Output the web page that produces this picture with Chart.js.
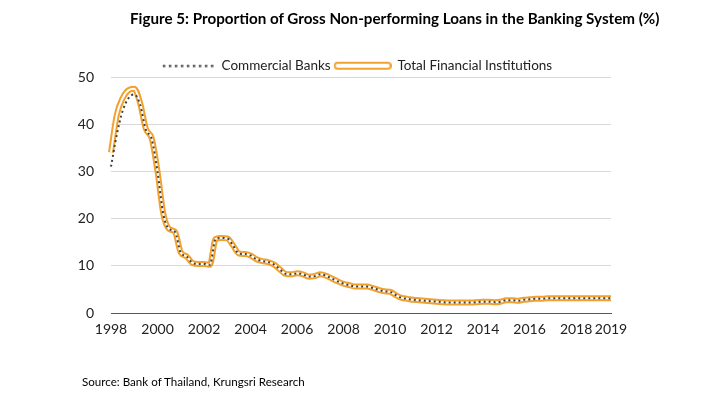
<!DOCTYPE html>
<html>
<head>
<meta charset="utf-8">
<script src="https://cdn.jsdelivr.net/npm/chart.js@4.4.1/dist/chart.umd.min.js"></script>
<style>
  html, body { margin: 0; padding: 0; background: #fff; }
  #wrap { position: relative; width: 711px; height: 399px; }
  #title { position: absolute; top: 8px; left: 130px; white-space: nowrap;
    font: bold 15.2px Lato, sans-serif; color: #000; line-height: 20px; }
  #source { position: absolute; top: 375px; left: 82px; white-space: nowrap;
    font: 11.6px Lato, sans-serif; color: #000; line-height: 14px; }
  #chart { position: absolute; left: 0; top: 0; }
</style>
</head>
<body>
<div id="wrap">
  <canvas id="chart" width="711" height="399"></canvas>
  <div id="title">Figure 5: Proportion of Gross Non-performing Loans in the Banking System (%)</div>
  <div id="source">Source: Bank of Thailand, Krungsri Research</div>
</div>
<script>
// quarterly periods
const quarters = [
  '1998Q1', '1998Q2', '1998Q3', '1998Q4',
  '1999Q1', '1999Q2', '1999Q3', '1999Q4',
  '2000Q1', '2000Q2', '2000Q3', '2000Q4',
  '2001Q1', '2001Q2', '2001Q3', '2001Q4',
  '2002Q1', '2002Q2', '2002Q3', '2002Q4',
  '2003Q1', '2003Q2', '2003Q3', '2003Q4',
  '2004Q1', '2004Q2', '2004Q3', '2004Q4',
  '2005Q1', '2005Q2', '2005Q3', '2005Q4',
  '2006Q1', '2006Q2', '2006Q3', '2006Q4',
  '2007Q1', '2007Q2', '2007Q3', '2007Q4',
  '2008Q1', '2008Q2', '2008Q3', '2008Q4',
  '2009Q1', '2009Q2', '2009Q3', '2009Q4',
  '2010Q1', '2010Q2', '2010Q3', '2010Q4',
  '2011Q1', '2011Q2', '2011Q3', '2011Q4',
  '2012Q1', '2012Q2', '2012Q3', '2012Q4',
  '2013Q1', '2013Q2', '2013Q3', '2013Q4',
  '2014Q1', '2014Q2', '2014Q3', '2014Q4',
  '2015Q1', '2015Q2', '2015Q3', '2015Q4',
  '2016Q1', '2016Q2', '2016Q3', '2016Q4',
  '2017Q1', '2017Q2', '2017Q3', '2017Q4',
  '2018Q1', '2018Q2', '2018Q3', '2018Q4',
  '2019Q1', '2019Q2', '2019Q3'
];

const commercialBanks = [
  31.0, 37.8, 42.8, 45.5,
  46.3, 44.2, 38.8, 36.9,
  29.9, 20.9, 17.8, 17.2,
  12.8, 12.0, 10.6, 10.4,
  10.4, 10.2, 15.7, 15.9,
  15.8, 14.3, 12.6, 12.5,
  12.2, 11.4, 11.0, 10.8,
  10.3, 9.3, 8.3, 8.2,
  8.4, 8.2, 7.7, 7.8,
  8.2, 7.9, 7.3, 6.7,
  6.2, 5.9, 5.6, 5.6,
  5.6, 5.3, 4.9, 4.6,
  4.5, 3.8, 3.2, 3.0,
  2.8, 2.7, 2.6, 2.5,
  2.4, 2.3, 2.2, 2.2,
  2.2, 2.2, 2.2, 2.3,
  2.4, 2.4, 2.3, 2.4,
  2.7, 2.7, 2.6, 2.8,
  2.9, 3.0, 3.0, 3.1,
  3.1, 3.1, 3.1, 3.1,
  3.1, 3.1, 3.1, 3.1,
  3.1, 3.1, 3.1
];

const totalFinancial = [
  34.0, 42.0, 45.5, 47.2,
  47.5, 44.5, 39.0, 37.0,
  30.0, 21.0, 17.8, 17.2,
  12.8, 12.0, 10.6, 10.4,
  10.4, 10.2, 15.7, 15.9,
  15.8, 14.3, 12.6, 12.5,
  12.2, 11.4, 11.0, 10.8,
  10.3, 9.3, 8.3, 8.2,
  8.4, 8.2, 7.7, 7.8,
  8.2, 7.9, 7.3, 6.7,
  6.2, 5.9, 5.6, 5.6,
  5.6, 5.3, 4.9, 4.6,
  4.5, 3.8, 3.2, 3.0,
  2.8, 2.7, 2.6, 2.5,
  2.4, 2.3, 2.2, 2.2,
  2.2, 2.2, 2.2, 2.3,
  2.4, 2.4, 2.3, 2.4,
  2.7, 2.7, 2.6, 2.8,
  2.9, 3.0, 3.0, 3.1,
  3.1, 3.1, 3.1, 3.1,
  3.1, 3.1, 3.1, 3.1,
  3.1, 3.1, 3.1
];

// x axis labels and the periods they sit on
const tickPeriods = ['1998Q1', '2000Q1', '2002Q1', '2004Q1', '2006Q1', '2008Q1',
  '2010Q1', '2012Q1', '2014Q1', '2016Q1', '2018Q1', '2019Q3'];
const tickLabels = ['1998', '2000', '2002', '2004', '2006', '2008',
  '2010', '2012', '2014', '2016', '2018', '2019'];

const seriesNames = ['Commercial Banks', 'Total Financial Institutions'];

const ORANGE = '#F2A12E';
const DOTS = '#404040';
const FONT = 'Lato, sans-serif';

// legend symbols drawn on small canvases
function makeSymbol(w, draw) {
  const c = document.createElement('canvas');
  c.width = w;
  c.height = 10;
  draw(c.getContext('2d'));
  return c;
}
const dotSymbol = makeSymbol(54, (g) => {
  g.fillStyle = '#595959';
  for (let i = 0; i < 9; i++) g.fillRect(3 + i * 6, 4, 2.5, 2.5);
});
const doubleSymbol = makeSymbol(58, (g) => {
  g.fillStyle = '#fff';
  g.strokeStyle = ORANGE;
  g.lineWidth = 2;
  g.beginPath();
  g.roundRect(1, 2, 56, 6, 3);
  g.fill();
  g.stroke();
});

// pull the plot up closer to the legend
const legendGap = {
  id: 'legendGap',
  afterInit(chart) {
    const lg = chart.legend;
    const fit = lg.fit;
    lg.fit = function () {
      fit.call(this);
      this.height -= 5.5;
    };
  }
};

new Chart(document.getElementById('chart'), {
  type: 'line',
  data: {
    labels: quarters,
    datasets: [
      {
        label: seriesNames[0],
        data: commercialBanks,
        borderColor: DOTS,
        borderWidth: 2,
        borderDash: [2, 3],
        pointRadius: 0,
        cubicInterpolationMode: 'monotone',
        order: 0
      },
      {
        label: 'inner',
        data: totalFinancial,
        borderColor: '#FFFFFF',
        borderWidth: 2,
        pointRadius: 0,
        cubicInterpolationMode: 'monotone',
        order: 1
      },
      {
        label: seriesNames[1],
        data: totalFinancial,
        borderColor: ORANGE,
        borderWidth: 6,
        pointRadius: 0,
        cubicInterpolationMode: 'monotone',
        order: 2
      }
    ]
  },
  plugins: [legendGap],
  options: {
    responsive: false,
    animation: false,
    layout: { padding: { left: 0, right: 0, top: 55, bottom: 26 } },
    plugins: {
      tooltip: { enabled: false },
      legend: {
        position: 'top',
        labels: {
          usePointStyle: true,
          pointStyleWidth: 56,
          padding: 4,
          color: '#222',
          font: { family: FONT, size: 13.5 },
          generateLabels: () => [
            { text: seriesNames[0], pointStyle: dotSymbol, datasetIndex: 0, lineWidth: 0, fontColor: '#222' },
            { text: seriesNames[1], pointStyle: doubleSymbol, datasetIndex: 2, lineWidth: 0, fontColor: '#222' }
          ]
        }
      }
    },
    scales: {
      x: {
        grid: { display: false, drawTicks: false },
        border: { display: true, color: '#595959', width: 1 },
        ticks: {
          autoSkip: false,
          maxRotation: 0,
          padding: 8,
          color: '#222',
          font: { family: FONT, size: 14 },
          callback: (v, i) => {
            const k = tickPeriods.indexOf(quarters[i]);
            return k >= 0 ? tickLabels[k] : '';
          }
        },
        afterFit: (s) => { s.height = 60; }
      },
      y: {
        min: 0,
        max: 50,
        ticks: { stepSize: 10, padding: 17, color: '#222', font: { family: FONT, size: 14 } },
        grid: {
          drawTicks: false,
          color: (c) => (c.tick.value === 0 ? 'rgba(0,0,0,0)' : '#D9D9D9')
        },
        border: { display: false },
        afterFit: (s) => { s.width = 111; }
      },
      // empty right-hand strip so the plot ends where the reference does
      yRight: {
        type: 'linear',
        position: 'right',
        grid: { display: false, drawTicks: false },
        border: { display: false },
        ticks: { display: false },
        afterFit: (s) => { s.width = 100; }
      }
    }
  }
});
</script>
</body>
</html>
